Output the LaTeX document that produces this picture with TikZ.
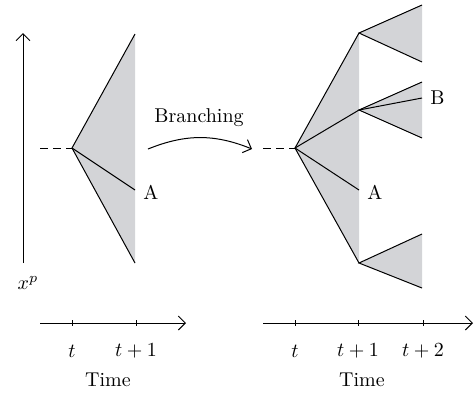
\documentclass[tikz,border=0pt]{standalone}
\usetikzlibrary{arrows.meta,positioning,calc}
\definecolor{fanfill}{RGB}{211,212,215}

\begin{document}
\begin{tikzpicture}[x=0.5pt, y=-0.5pt,
    fan/.style={fill=fanfill},
    edge/.style={line width=0.5pt, draw=black},
    axis/.style={-{Straight Barb[length=3.5pt,width=7pt]}, line width=0.5pt},
    guide/.style={line width=0.5pt, dash pattern=on 4pt off 2.5pt},
    tick/.style={line width=0.5pt},
]
\useasboundingbox (0,0) rectangle (475,393);

% Vertical axis
\coordinate (ybot) at (23,263);
\coordinate (ytop) at (23,33);
\draw[axis] (ybot) -- (ytop);
\node (xp) at (28,283) {$x^p$};

% Left fan
\coordinate (lstart) at (40,148);
\coordinate (lroot) at (72,148);
\coordinate (ltop) at (135,34);
\coordinate (lA) at (135,190);
\coordinate (lbot) at (135,263);
\fill[fan] (lroot) -- (ltop) -- (lbot) -- cycle;
\draw[edge] (ltop) -- (lroot) -- (lbot);
\draw[edge] (lroot) -- (lA);
\draw[guide] (lstart) -- (lroot);
\node[anchor=west, inner sep=2pt] (labA) at ($(lA)+(4,2)$) {A};

% Branching arrow
\coordinate (bfrom) at (148,149);
\coordinate (bto) at (252,149);
\draw[axis, bend left=22] (bfrom) to (bto);
\node (branch) at (199,118) {Branching};

% Right fan
\coordinate (rstart) at (263,148);
\coordinate (rroot) at (295,148);
\coordinate (rtop) at (359,33);
\coordinate (rmid) at (359,110);
\coordinate (rA) at (359,190);
\coordinate (rbot) at (359,263);
\fill[fan] (rroot) -- (rtop) -- (rbot) -- cycle;
\draw[edge] (rtop) -- (rroot) -- (rbot);
\draw[edge] (rroot) -- (rmid);
\draw[edge] (rroot) -- (rA);
\draw[guide] (rstart) -- (rroot);
\node[anchor=west, inner sep=2pt] (labA2) at ($(rA)+(4,2)$) {A};

% Second branching
\coordinate (t1) at (422,5);
\coordinate (t2) at (422,62);
\coordinate (m1) at (422,82);
\coordinate (mB) at (422,98);
\coordinate (m2) at (422,138);
\coordinate (b1) at (422,234);
\coordinate (b2) at (422,288);
\fill[fan] (rtop) -- (t1) -- (t2) -- cycle;
\fill[fan] (rmid) -- (m1) -- (m2) -- cycle;
\fill[fan] (rbot) -- (b1) -- (b2) -- cycle;
\draw[edge] (t1) -- (rtop) -- (t2);
\draw[edge] (m1) -- (rmid) -- (m2);
\draw[edge] (rmid) -- (mB);
\draw[edge] (b1) -- (rbot) -- (b2);
\node[anchor=west, inner sep=2pt] (labB) at ($(mB)+(4,0)$) {B};

% Time axes
\coordinate (lt0) at (40,323);
\coordinate (lt1) at (186,323);
\draw[axis] (lt0) -- (lt1);
\foreach \x/\lab [count=\i] in {72/t, 136/t+1} {
  \draw[tick] (\x,320) -- (\x,326);
  \node (ltick\i) at (\x,351) {$\lab$};
}
\node (ltime) at (108,380) {Time};

\coordinate (rt0) at (263,323);
\coordinate (rt1) at (473,323);
\draw[axis] (rt0) -- (rt1);
\foreach \x/\lab [count=\i] in {295/t, 358/t+1, 423/t+2} {
  \draw[tick] (\x,320) -- (\x,326);
  \node (rtick\i) at (\x,351) {$\lab$};
}
\node (rtime) at (362,380) {Time};

\end{tikzpicture}
\end{document}
